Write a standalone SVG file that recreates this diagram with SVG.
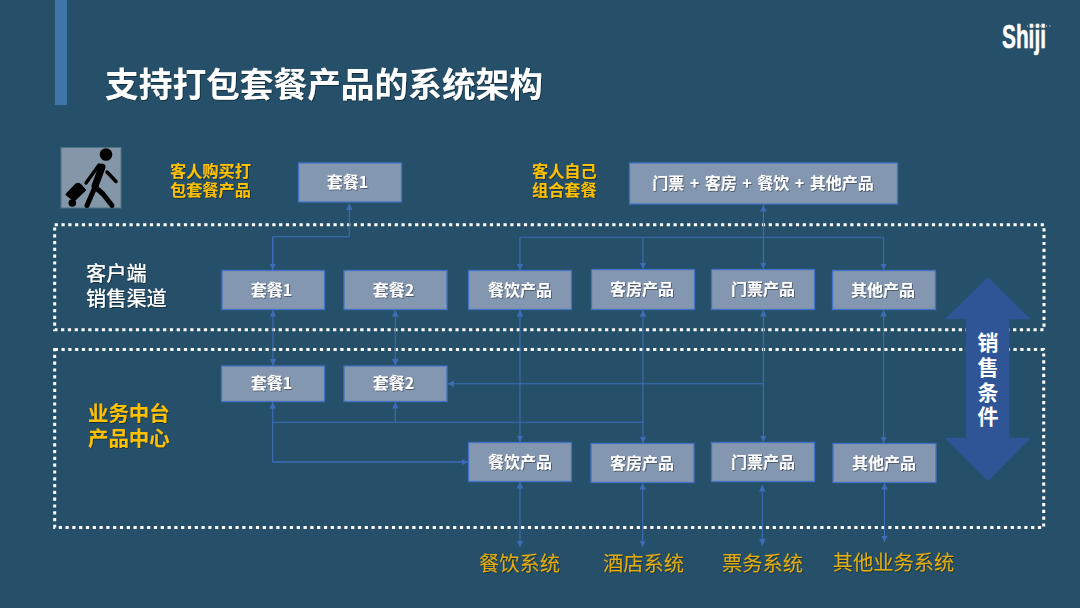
<svg xmlns="http://www.w3.org/2000/svg" width="1080" height="608" viewBox="0 0 1080 608">
<style>
text{font-family:"Noto Sans CJK SC","Noto Sans",sans-serif;font-weight:700}
.box{fill:#8497B0;stroke:#4472C4;stroke-width:1.3}
.lb{fill:#fff;font-size:16px;text-anchor:middle;filter:url(#sh)}
.gold{fill:#FFC000;font-size:16.2px;filter:url(#sh)}
.wh{fill:#fff;font-size:20.2px;font-weight:500;filter:url(#sh)}
.sys{fill:#E3AC10;font-size:20.3px;font-weight:400;text-anchor:middle;filter:url(#sh)}
.dot{fill:none;stroke:#fff;stroke-width:3;stroke-dasharray:3.2 3.6}
.c{fill:none;stroke:#3D6DB8;stroke-width:1.1}
.ae{marker-end:url(#a)}
.as{marker-start:url(#a)}
.bk{fill:none;stroke:#000;stroke-linecap:round;stroke-linejoin:round}
</style>
<defs>
<marker id="a" markerUnits="userSpaceOnUse" markerWidth="7" markerHeight="7" refX="6.5" refY="3.25" orient="auto-start-reverse"><path d="M0 0L6.5 3.25L0 6.5Z" fill="#3D6DB8"/></marker>
<filter id="sh" x="-10%" y="-20%" width="120%" height="140%"><feDropShadow dx="0.8" dy="0.8" stdDeviation="0.7" flood-color="#000" flood-opacity="0.5"/></filter>
</defs>
<rect width="1080" height="608" fill="#265069"/>
<rect x="55" y="0" width="12" height="105" fill="#3F76A8"/>
<text x="105" y="97" font-size="33.7" fill="#fff" filter="url(#sh)">支持打包套餐产品的系统架构</text>
<g id="logo">
<text x="1002" y="47.5" font-size="33" fill="#fff" stroke="#fff" stroke-width="0.5" textLength="44" lengthAdjust="spacingAndGlyphs" style="font-family:'Liberation Sans',sans-serif">Shiji</text>
<path d="M1027 26h24" stroke="#fff" stroke-width="1" stroke-dasharray="1 2.2" fill="none"/>
</g>
<g id="icon">
<rect x="61" y="147.5" width="60" height="60.5" fill="#8497A8" stroke="#4F7285"/>
<circle cx="106" cy="154.5" r="6.3" fill="#000"/>
<path class="bk" stroke-width="7" d="M102 167L95 186"/>
<path class="bk" stroke-width="3.5" d="M99 165L86 183M107 172L116 181.5"/>
<path class="bk" stroke-width="5" d="M95 187L87 205.5M95 187L103 194L112 205.5"/>
<path d="M66.5 194.5L76 184.5Q78 183 80 184.5L85 190L74 200.5Z" fill="#000" stroke="#000" stroke-linejoin="round" stroke-width="2"/>
<circle cx="72.3" cy="203" r="3.8" fill="#000"/>
</g>
<rect class="dot" x="54.7" y="224.8" width="989.3" height="105"/>
<rect class="dot" x="54.7" y="349.6" width="989" height="178"/>
<g id="connectors">
<path class="c as" d="M349.3 203.5V236.7H272.7V270"/>
<path class="c ae" d="M272.7 236.7V270"/>
<path class="c as" d="M763.4 205V237.3"/>
<path class="c" d="M520 237.3H883.6"/>
<path class="c ae" d="M520 237.3V270"/>
<path class="c ae" d="M643 237.3V269"/>
<path class="c ae" d="M763.4 237.3V269"/>
<path class="c ae" d="M883.6 237.3V270"/>
<path class="c as ae" d="M273 310V365.5"/>
<path class="c as ae" d="M395.3 310V365.5"/>
<path class="c as ae" d="M520 310V442"/>
<path class="c as ae" d="M643 310V443"/>
<path class="c as ae" d="M763.4 310V442"/>
<path class="c as ae" d="M883.6 310V443"/>
<path class="c ae" d="M763.4 383.7H447.5"/>
<path class="c as" d="M272.7 402V462H468"/>
<path class="c ae" d="M272.7 462H468"/>
<path class="c" d="M272.7 422.3H643"/>
<path class="c as" d="M395.3 402V422.3"/>
<path class="c as ae" d="M520 482V547"/>
<path class="c as ae" d="M642.7 483V547"/>
<path class="c as ae" d="M762.3 485V545.5"/>
<path class="c as ae" d="M884.5 483V542"/>
</g>
<g id="top-package"><rect class="box" x="298.5" y="163" width="103" height="39"/><text class="lb" x="347.5" y="188">套餐1</text></g>
<g id="top-custom"><rect class="box" x="629.5" y="163" width="268" height="41"/><text class="lb" x="763" y="189" word-spacing="1.9">门票 + 客房 + 餐饮 + 其他产品</text></g>
<g id="ch-package1"><rect class="box" x="222" y="270.5" width="102.5" height="39"/><text class="lb" x="271.5" y="296">套餐1</text></g>
<g id="ch-package2"><rect class="box" x="344" y="270.5" width="103" height="39"/><text class="lb" x="393.5" y="296">套餐2</text></g>
<g id="ch-food"><rect class="box" x="468.5" y="270.5" width="103" height="39"/><text class="lb" x="520" y="296">餐饮产品</text></g>
<g id="ch-room"><rect class="box" x="591.5" y="269.5" width="103" height="40"/><text class="lb" x="642" y="295">客房产品</text></g>
<g id="ch-ticket"><rect class="box" x="711.5" y="269.5" width="103" height="40"/><text class="lb" x="763" y="295">门票产品</text></g>
<g id="ch-other"><rect class="box" x="832.5" y="270.5" width="103" height="39"/><text class="lb" x="883" y="296">其他产品</text></g>
<g id="mid-package1"><rect class="box" x="221.5" y="366" width="103" height="35.5"/><text class="lb" x="271.5" y="389">套餐1</text></g>
<g id="mid-package2"><rect class="box" x="344" y="366" width="103" height="35.5"/><text class="lb" x="393.5" y="389">套餐2</text></g>
<g id="mid-food"><rect class="box" x="468.5" y="442.5" width="103" height="39"/><text class="lb" x="520" y="468">餐饮产品</text></g>
<g id="mid-room"><rect class="box" x="591" y="443.5" width="103" height="39"/><text class="lb" x="642" y="469">客房产品</text></g>
<g id="mid-ticket"><rect class="box" x="711.5" y="442.5" width="103" height="39"/><text class="lb" x="763" y="468">门票产品</text></g>
<g id="mid-other"><rect class="box" x="833" y="443.5" width="103" height="39"/><text class="lb" x="884" y="469">其他产品</text></g>
<g id="labels">
<text class="gold" x="170" y="177">客人购买打</text>
<text class="gold" x="170" y="196">包套餐产品</text>
<text class="gold" x="532" y="177">客人自己</text>
<text class="gold" x="532" y="196">组合套餐</text>
<text class="wh" x="86" y="281">客户端</text>
<text class="wh" x="86" y="306">销售渠道</text>
<text class="gold" style="font-size:20.4px" x="88" y="421">业务中台</text>
<text class="gold" style="font-size:20.4px" x="88" y="446">产品中心</text>
<text class="sys" x="519.5" y="571">餐饮系统</text>
<text class="sys" x="643.5" y="571">酒店系统</text>
<text class="sys" x="762.5" y="571">票务系统</text>
<text class="sys" x="893.5" y="570">其他业务系统</text>
</g>
<g id="sale-condition">
<path d="M988 277L1030.5 319.3H1009.3V437.7H1031L988 481.3L944.5 437.7H965.8V319.3H945Z" fill="#2F5597"/>
<text x="988" y="349.5" font-size="21" fill="#fff" text-anchor="middle">销</text>
<text x="988" y="374.5" font-size="21" fill="#fff" text-anchor="middle">售</text>
<text x="988" y="399.5" font-size="21" fill="#fff" text-anchor="middle">条</text>
<text x="988" y="424" font-size="21" fill="#fff" text-anchor="middle">件</text>
</g>
</svg>
